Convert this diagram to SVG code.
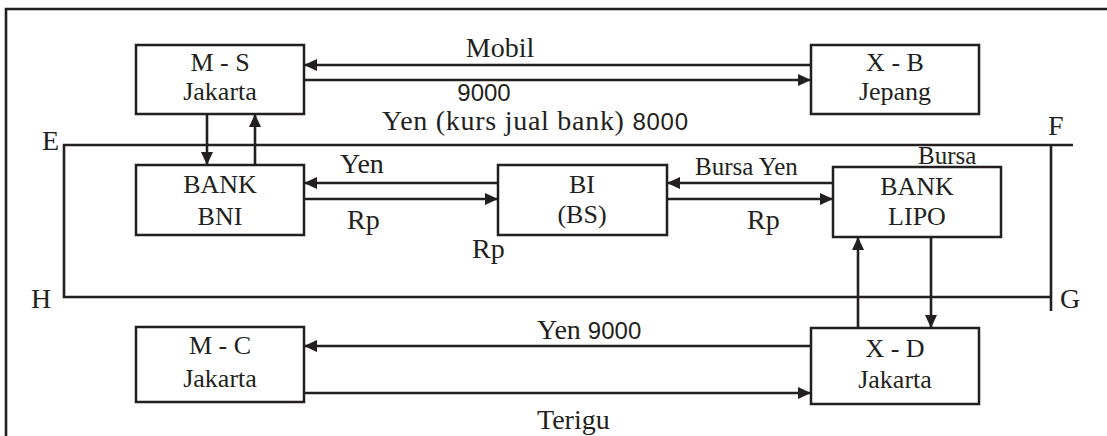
<svg xmlns="http://www.w3.org/2000/svg" width="1107" height="436" viewBox="0 0 1107 436">
<style>
.box{fill:#fff;stroke:#231f20;stroke-width:2.5}
.ln{fill:none;stroke:#231f20;stroke-width:2.6}
.ar{fill:none;stroke:#231f20;stroke-width:2.6;marker-end:url(#ah)}
text{font-family:"Liberation Serif","Times New Roman",serif;fill:#231f20}
.bt{font-size:26px;text-anchor:middle}
.lb{font-size:28px}
.sm{font-size:25px}
.num{font-family:"Liberation Sans",Arial,sans-serif;font-size:24px}
</style>
<defs>
<marker id="ah" markerUnits="userSpaceOnUse" markerWidth="14" markerHeight="12" refX="13" refY="6" orient="auto">
<path d="M0,0 L13,6 L0,12 z" fill="#231f20"/>
</marker>
</defs>
<rect width="1107" height="436" fill="#fff"/>
<g id="frame">
<path class="ln" d="M6,436 V9 H1107"/>
<path class="ln" d="M1073,145 H64 V297 H1051"/>
<path class="ln" d="M1051,145 V311"/>
<text class="lb" x="42" y="150">E</text>
<text class="lb" x="1048" y="135">F</text>
<text class="lb" x="1060" y="308">G</text>
<text class="lb" x="31" y="308">H</text>
</g>
<g id="connectors">
<path class="ar" d="M811,65 H304"/>
<path class="ar" d="M304,80 H811"/>
<path class="ar" d="M207,114 V165"/>
<path class="ar" d="M255,165 V114"/>
<path class="ar" d="M498,183 H304"/>
<path class="ar" d="M304,199 H498"/>
<path class="ar" d="M833,183 H667"/>
<path class="ar" d="M667,199 H833"/>
<path class="ar" d="M858,328 V237"/>
<path class="ar" d="M931,237 V328"/>
<path class="ar" d="M811,346 H304"/>
<path class="ar" d="M304,393 H811"/>
<text class="lb" x="500" y="57" text-anchor="middle">Mobil</text>
<text class="num" x="484" y="101" font-size="22" text-anchor="middle">9000</text>
<text class="lb" x="382" y="130" textLength="306" lengthAdjust="spacing">Yen (kurs jual bank) <tspan class="num">8000</tspan></text>
<text class="lb" x="340" y="173">Yen</text>
<text class="lb" x="347" y="229">Rp</text>
<text class="lb" x="472" y="258">Rp</text>
<text class="sm" x="695" y="175">Bursa Yen</text>
<text class="lb" x="747" y="229">Rp</text>
<text class="sm" x="918" y="164">Bursa</text>
<text class="lb" x="537" y="339">Yen <tspan class="num">9000</tspan></text>
<text class="lb" x="537" y="429">Terigu</text>
</g>
<g id="node-ms">
<rect class="box" x="136" y="45" width="168" height="69"/>
<text class="bt" x="220" y="71">M - S</text>
<text class="bt" x="220" y="100">Jakarta</text>
</g>
<g id="node-xb">
<rect class="box" x="811" y="45" width="168" height="69"/>
<text class="bt" x="895" y="71">X - B</text>
<text class="bt" x="895" y="100">Jepang</text>
</g>
<g id="node-bni">
<rect class="box" x="136" y="165" width="168" height="70"/>
<text class="bt" x="220" y="193">BANK</text>
<text class="bt" x="220" y="225">BNI</text>
</g>
<g id="node-bi">
<rect class="box" x="498" y="165" width="169" height="70"/>
<text class="bt" x="582" y="193">BI</text>
<text class="bt" x="582" y="223">(BS)</text>
</g>
<g id="node-lipo">
<rect class="box" x="833" y="167" width="168" height="70"/>
<text class="bt" x="917" y="195">BANK</text>
<text class="bt" x="917" y="225">LIPO</text>
</g>
<g id="node-mc">
<rect class="box" x="136" y="327" width="168" height="75"/>
<text class="bt" x="220" y="354">M - C</text>
<text class="bt" x="220" y="387">Jakarta</text>
</g>
<g id="node-xd">
<rect class="box" x="811" y="328" width="168" height="76"/>
<text class="bt" x="895" y="357">X - D</text>
<text class="bt" x="895" y="388">Jakarta</text>
</g>
</svg>
